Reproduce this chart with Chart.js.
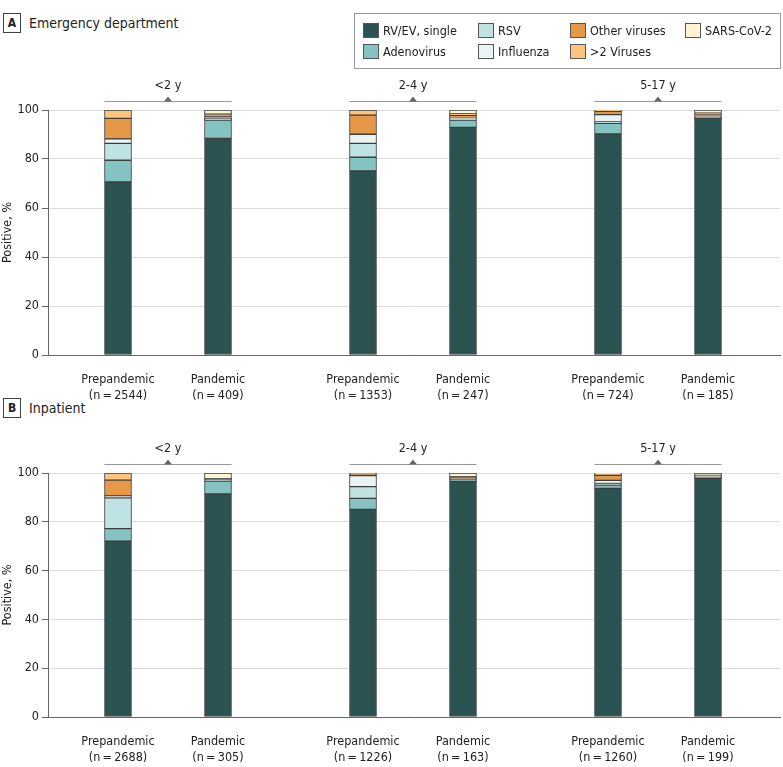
<!DOCTYPE html>
<html>
<head>
<meta charset="utf-8">
<script src="https://cdn.jsdelivr.net/npm/chart.js@4.4.1/dist/chart.umd.min.js"></script>
<style>
  body { margin: 0; background: #fff; }
  #wrap { position: relative; width: 783px; height: 767px; font-family: 'DejaVu Sans Condensed', sans-serif; color: #222; }
  canvas { position: absolute; left: 0; }
  .panel { position: absolute; left: 3px; display: flex; align-items: center; font-size: 14px; }
  .panel span.box { display: inline-block; width: 16px; height: 18px; border: 1px solid #444; text-align: center; line-height: 18px; font-size: 12px; font-weight: bold; margin-right: 8px; }
  #legend { position: absolute; left: 354px; top: 13px; width: 427px; height: 56px; border: 1px solid #999; box-sizing: border-box; }
  .item { position: absolute; display: flex; align-items: center; font-size: 12.5px; white-space: nowrap; }
  .item i { display: inline-block; width: 16px; height: 15px; border: 1px solid #555; box-sizing: border-box; margin-right: 4px; }
</style>
</head>
<body>
<div id="wrap">
  <div class="panel" style="top:13px"><span class="box">A</span>Emergency department</div>
  <div class="panel" style="top:398px"><span class="box">B</span>Inpatient</div>
  <canvas id="chartA" width="783" height="345" style="top:60px"></canvas>
  <canvas id="chartB" width="783" height="344" style="top:423px"></canvas>
  <div id="legend"></div>
</div>
<script>
// series (stack order bottom -> top)
const seriesNames = ['RV/EV, single', 'Adenovirus', 'RSV', 'Influenza', 'Other viruses', '>2 Viruses', 'SARS-CoV-2'];
const seriesColors = ['#2a5352', '#84c3c2', '#bfe3e2', '#eaf4f4', '#e59848', '#fcc57e', '#fff4d2'];

const ageGroups = ['<2 y', '2-4 y', '5-17 y'];
const periods = ['Prepandemic', 'Pandemic', 'Prepandemic', 'Pandemic', 'Prepandemic', 'Pandemic'];
const xPos = [0, 1, 2.45, 3.45, 4.9, 5.9];
const yTicks = [0, 20, 40, 60, 80, 100];

// A: emergency department
const edN = [2544, 409, 1353, 247, 724, 185];
const rvEd = [70.6, 88.4, 75.1, 92.9, 90.2, 96.6];
const adenoEd = [8.9, 7.5, 5.6, 3.0, 4.4, 0.3];
const rsvEd = [6.9, 0.3, 5.7, 0.4, 0.5, 0.2];
const fluEd = [1.8, 0.3, 3.7, 0.3, 3.0, 0.3];
const otherEd = [8.4, 1.0, 7.8, 1.2, 1.4, 1.0];
const multiEd = [3.4, 0.8, 2.1, 0.6, 0.5, 0.3];
const sarsEd = [0, 1.7, 0, 1.6, 0, 1.3];

// B: inpatient
const ipN = [2688, 305, 1226, 163, 1260, 199];
const rvIp = [72.1, 91.4, 85.1, 96.7, 93.7, 97.8];
const adenoIp = [5.1, 5.3, 4.5, 0.7, 1.4, 0];
const rsvIp = [12.6, 0.7, 4.8, 0, 0.6, 0.2];
const fluIp = [0.8, 0.3, 4.5, 0.2, 1.3, 0.8];
const otherIp = [6.5, 0, 0.8, 0.5, 2.0, 0.2];
const multiIp = [2.9, 0, 0.3, 0.3, 0.5, 0];
const sarsIp = [0, 2.3, 0, 1.6, 0.5, 1.0];

const FONT = "'DejaVu Sans Condensed', sans-serif";

// legend
const legendPos = [[8, 9], [8, 30], [123, 9], [123, 30], [215, 9], [215, 30], [330, 9]];
const legend = document.getElementById('legend');
seriesNames.forEach((name, s) => {
  const d = document.createElement('div');
  d.className = 'item';
  d.style.left = legendPos[s][0] + 'px';
  d.style.top = legendPos[s][1] + 'px';
  d.innerHTML = '<i style="background:' + seriesColors[s] + '"></i>';
  d.appendChild(document.createTextNode(name));
  legend.appendChild(d);
});

// group brackets above the bars
const bracketPlugin = {
  id: 'brackets',
  afterDraw(chart) {
    const ctx = chart.ctx;
    const xs = chart.scales.x;
    const top = chart.chartArea.top;
    ctx.save();
    ageGroups.forEach((g, i) => {
      const x1 = xs.getPixelForValue(xPos[i * 2]) - 13.5;
      const x2 = xs.getPixelForValue(xPos[i * 2 + 1]) + 13.5;
      const y = top - 8.5;
      const cx = (x1 + x2) / 2;
      ctx.strokeStyle = '#999';
      ctx.lineWidth = 1;
      ctx.beginPath();
      ctx.moveTo(x1, y);
      ctx.lineTo(x2, y);
      ctx.stroke();
      ctx.fillStyle = '#666';
      ctx.beginPath();
      ctx.moveTo(cx - 4, y);
      ctx.lineTo(cx + 4, y);
      ctx.lineTo(cx, y - 5);
      ctx.closePath();
      ctx.fill();
      ctx.fillStyle = '#222';
      ctx.font = '12.5px ' + FONT;
      ctx.textAlign = 'center';
      ctx.textBaseline = 'middle';
      ctx.fillText(g, cx, top - 24);
    });
    ctx.restore();
  }
};

function makeChart(id, nList, series) {
  const labels = periods.map((p, i) => [p, '(n\u2009=\u2009' + nList[i] + ')']);
  const datasets = series.map((vals, s) => ({
    label: seriesNames[s],
    data: vals.map((v, i) => ({ x: xPos[i], y: v || null })),
    backgroundColor: seriesColors[s],
    borderColor: '#3d3d3d',
    borderWidth: 1,
    borderSkipped: false,
    barThickness: 27
  }));
  return new Chart(document.getElementById(id), {
    type: 'bar',
    data: { datasets: datasets },
    options: {
      responsive: false,
      animation: false,
      layout: { padding: { top: 50, right: 3, left: 0, bottom: 0 } },
      plugins: { legend: { display: false }, tooltip: { enabled: false } },
      scales: {
        x: {
          type: 'linear',
          stacked: true,
          offset: false,
          min: -0.70,
          max: 6.62,
          afterBuildTicks: (axis) => { axis.ticks = xPos.map(v => ({ value: v })); },
          afterFit: (scale) => { scale.height = 50; },
          grid: { display: false },
          border: { display: true, color: '#666' },
          ticks: {
            autoSkip: false,
            maxRotation: 0,
            padding: 9,
            color: '#222',
            font: { family: FONT, size: 12.5, lineHeight: 1.25 },
            callback: (v, i) => labels[i]
          }
        },
        y: {
          stacked: true,
          min: 0,
          max: 100,
          afterBuildTicks: (axis) => { axis.ticks = yTicks.map(v => ({ value: v })); },
          afterFit: (scale) => { scale.width = 48; },
          grid: { color: '#dcdcdc', tickColor: '#666', tickLength: 6 },
          border: { display: true, color: '#666' },
          ticks: { color: '#222', padding: 3, font: { family: FONT, size: 12.5 } },
          title: { display: true, text: 'Positive, %', color: '#222', padding: { top: 0, bottom: 2 }, font: { family: FONT, size: 12.5 } }
        }
      }
    },
    plugins: [bracketPlugin]
  });
}

makeChart('chartA', edN, [rvEd, adenoEd, rsvEd, fluEd, otherEd, multiEd, sarsEd]);
makeChart('chartB', ipN, [rvIp, adenoIp, rsvIp, fluIp, otherIp, multiIp, sarsIp]);
</script>
</body>
</html>
